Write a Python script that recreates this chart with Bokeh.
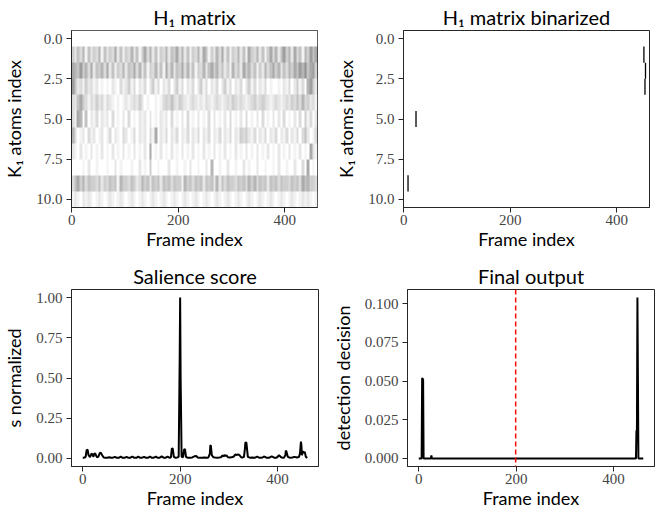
import numpy as np
from bokeh.plotting import figure
from bokeh.models import Range1d, FixedTicker, LinearColorMapper, Span, PrintfTickFormatter
from bokeh.layouts import column, row
from bokeh.palettes import Greys256
from bokeh.embed import file_html
from bokeh.resources import INLINE

# ---------------- data ----------------
n_frames = 462
n_atoms = 11

# H1 activation intensities (0-9), each digit = block of ~5 frames
h_row0 = "0000000000 0000000000 0000000000 0000000000 0000000000 0000000000 0000000000 0000000000 0000000000 00"
h_row1 = "4253615243 6152437251 4362514736 2514362547 3625143627 5142637251 4362517436 2514736258 4627351648 57"
h_row2 = "7658463725 4637251436 2547362514 3625173625 4736251436 2574635241 6352746351 4263574625 3647586957 84"
h_row3 = "8523142312 0101021031 2413021302 4130213024 1302130241 3021302413 0213024130 2130100102 1302413068 42"
h_row4 = "3257431324 2313210101 2123242010 0101343532 4321232121 3212321232 4323212342 3432123212 3243536342 31"
h_row5 = "3176050213 0212030102 0301021202 0102120301 0203010201 0302010203 0102030102 0301020203 0102030413 02"
h_row6 = "6301203120 1201302103 2013021203 1702130213 0213021302 1302130213 0214342130 2130213021 3021303520 13"
h_row7 = "2102010201 0201020102 0102010207 0102010201 0201020102 0102010201 0201020102 0102010201 0201020107 21"
h_row8 = "0000102001 0001002010 0010020104 0010002001 0010200100 2060010020 0100201002 0010010200 1002003070 10"
h_row9 = "3574635443 5243545164 4354236452 5452545354 4164535452 5452625354 4354536463 5452545354 4354537564 43"
h_row10 = "1210212101 2101210121 0121012101 2101210121 0121012101 2101210121 0121012101 2101210121 0121012121 01"
h_rows = [h_row0, h_row1, h_row2, h_row3, h_row4, h_row5, h_row6, h_row7, h_row8, h_row9, h_row10]

# binarized H1: active cells (atom row, frame)
bin_atoms = [1, 2, 3, 5, 9]
bin_frames = [451, 454, 453, 23, 8]

# salience score (normalized)
sal_frames = [0, 3, 6, 8, 10, 12, 15, 18, 20, 22, 24, 26, 29, 32, 35, 37, 40, 43, 46, 50,
              55, 58, 62, 66, 70, 74, 78, 82, 86, 90, 94, 98, 102, 106, 110, 114, 118, 122, 126, 130,
              134, 138, 142, 146, 150, 154, 158, 162, 166, 170, 174, 178, 181, 183, 185, 187, 190, 194, 197, 199,
              200, 201, 203, 206, 208, 210, 212, 215, 220, 225, 230, 233, 236, 240, 245, 250, 255, 258, 261, 262,
              263, 265, 268, 272, 276, 280, 284, 287, 289, 291, 293, 295, 298, 302, 306, 310, 313, 316, 319, 322,
              325, 328, 331, 333, 334, 336, 339, 343, 348, 353, 358, 363, 368, 373, 378, 383, 388, 393, 398, 403,
              408, 413, 416, 417, 418, 421, 425, 430, 435, 440, 444, 446, 448, 449, 450, 452, 454, 456, 458, 461]
sal_values = [0.004, 0.005, 0.01, 0.052, 0.055, 0.02, 0.008, 0.03, 0.025, 0.01, 0.032, 0.028, 0.008, 0.01, 0.034, 0.036, 0.02, 0.006, 0.005, 0.004,
              0.008, 0.004, 0.005, 0.01, 0.004, 0.004, 0.011, 0.004, 0.004, 0.01, 0.004, 0.005, 0.012, 0.004, 0.004, 0.011, 0.004, 0.005, 0.01, 0.004,
              0.004, 0.012, 0.004, 0.005, 0.011, 0.004, 0.004, 0.013, 0.005, 0.004, 0.012, 0.005, 0.006, 0.062, 0.06, 0.01, 0.005, 0.006, 0.01, 0.6,
              1.0, 0.5, 0.01, 0.008, 0.055, 0.058, 0.01, 0.005, 0.004, 0.006, 0.014, 0.015, 0.006, 0.004, 0.005, 0.006, 0.004, 0.006, 0.03, 0.08,
              0.082, 0.02, 0.008, 0.006, 0.005, 0.006, 0.008, 0.02, 0.012, 0.022, 0.015, 0.02, 0.008, 0.006, 0.007, 0.012, 0.024, 0.022, 0.025, 0.02,
              0.008, 0.006, 0.01, 0.06, 0.1, 0.098, 0.01, 0.005, 0.006, 0.004, 0.011, 0.004, 0.005, 0.012, 0.004, 0.005, 0.013, 0.005, 0.004, 0.02,
              0.006, 0.005, 0.02, 0.048, 0.045, 0.01, 0.005, 0.006, 0.01, 0.006, 0.01, 0.03, 0.105, 0.08, 0.02, 0.045, 0.035, 0.04, 0.01, 0.004]

# final detection decision
out_frames = [0, 6, 7, 9, 10, 25, 26, 27, 446, 447, 448, 449, 451, 461]
out_values = [0.0, 0.0, 0.052, 0.051, 0.0, 0.0, 0.002, 0.0, 0.0, 0.018, 0.018, 0.104, 0.0, 0.0]

event_frame = 199

x_ticks = [0, 200, 400]
atom_ticks = [0, 2.5, 5, 7.5, 10]
sal_ticks = [0, 0.25, 0.5, 0.75, 1.0]
out_ticks = [0, 0.025, 0.05, 0.075, 0.1]

# ---------------- styling ----------------
SANS = "Lato"
SERIF = "Liberation Serif"
DARK = "#262626"


def style(p, xlabel, ylabel, yfmt, yticks):
    p.xgrid.visible = False
    p.ygrid.visible = False
    p.outline_line_color = DARK
    p.outline_line_width = 1
    p.background_fill_color = "white"
    p.border_fill_color = "white"
    p.xaxis.axis_label = xlabel
    p.yaxis.axis_label = ylabel
    p.xaxis.ticker = FixedTicker(ticks=x_ticks)
    p.yaxis.ticker = FixedTicker(ticks=yticks)
    p.yaxis.formatter = PrintfTickFormatter(format=yfmt)
    for ax in (p.xaxis, p.yaxis):
        ax.axis_line_color = DARK
        ax.axis_line_width = 1
        ax.major_tick_line_color = DARK
        ax.major_tick_out = 5
        ax.major_tick_in = 0
        ax.minor_tick_line_color = None
        ax.major_label_text_font = SERIF
        ax.major_label_text_font_size = "15px"
        ax.major_label_text_color = "#444444"
        ax.axis_label_text_font = SANS
        ax.axis_label_text_font_size = "18px"
        ax.axis_label_text_font_style = "normal"
        ax.axis_label_text_color = "black"
    p.xaxis.major_label_standoff = 2
    p.xaxis.axis_label_standoff = 0
    p.yaxis.major_label_standoff = 4
    p.yaxis.axis_label_standoff = 8
    p.title.text_font = SANS
    p.title.text_font_size = "20px"
    p.title.text_font_style = "normal"
    p.title.align = "center"
    p.title.text_color = "black"
    p.title.standoff = 4
    p.title.offset = 0


def make_fig(title, left, right, top, bottom, fw, x_range, y_range):
    return figure(title=title, frame_width=fw, frame_height=177,
                  min_border_left=left, min_border_right=right,
                  min_border_top=top, min_border_bottom=bottom,
                  x_range=x_range, y_range=y_range,
                  output_backend="svg", toolbar_location=None, tools="")


# H1 matrix
H = np.array([[int(c) for c in "".join(r.split())] for r in h_rows], dtype=float)
cmap = LinearColorMapper(palette=list(Greys256[::-1]), low=0, high=21)

p1 = make_fig("H₁ matrix", 68, 10, 23, 47, 246,
              Range1d(-0.5, n_frames - 0.5), Range1d(n_atoms - 0.5, -0.5))
p1.image(image=[H], x=-0.5, y=-0.5, dw=n_frames, dh=n_atoms, color_mapper=cmap)
style(p1, "Frame index", "K₁ atoms index", "%.1f", atom_ticks)

# binarized
p2 = make_fig("H₁ matrix binarized", 76, 2, 23, 47, 246,
              Range1d(-0.5, n_frames - 0.5), Range1d(n_atoms - 0.5, -0.5))
bx = np.array(bin_frames, dtype=float)
by = np.array(bin_atoms, dtype=float)
p2.segment(x0=bx, y0=by - 0.5, x1=bx, y1=by + 0.5, line_color="black", line_width=1.3)
style(p2, "Frame index", "K₁ atoms index", "%.1f", atom_ticks)

# line plot ranges (matplotlib-like 5% margins)
span = n_frames - 1
xr3 = Range1d(-0.05 * span, span * 1.05)
p3 = make_fig("Salience score", 67, 10, 35, 37, 247, xr3, Range1d(-0.05, 1.05))
p3.line(sal_frames, sal_values, line_color="black", line_width=2)
style(p3, "Frame index", "s normalized", "%.2f", sal_ticks)

omax = max(out_values)
xr4 = Range1d(-0.05 * span, span * 1.05)
p4 = make_fig("Final output", 75, 2, 35, 37, 247, xr4, Range1d(-0.05 * omax, omax * 1.05))
p4.line(out_frames, out_values, line_color="black", line_width=2)
p4.add_layout(Span(location=event_frame, dimension="height", line_color="red",
                   line_dash="5 3", line_width=1.5))
style(p4, "Frame index", "detection decision", "%.3f", out_ticks)

layout = column(row(p1, p2), row(p3, p4))
open("out.html", "w").write(file_html(layout, INLINE))
